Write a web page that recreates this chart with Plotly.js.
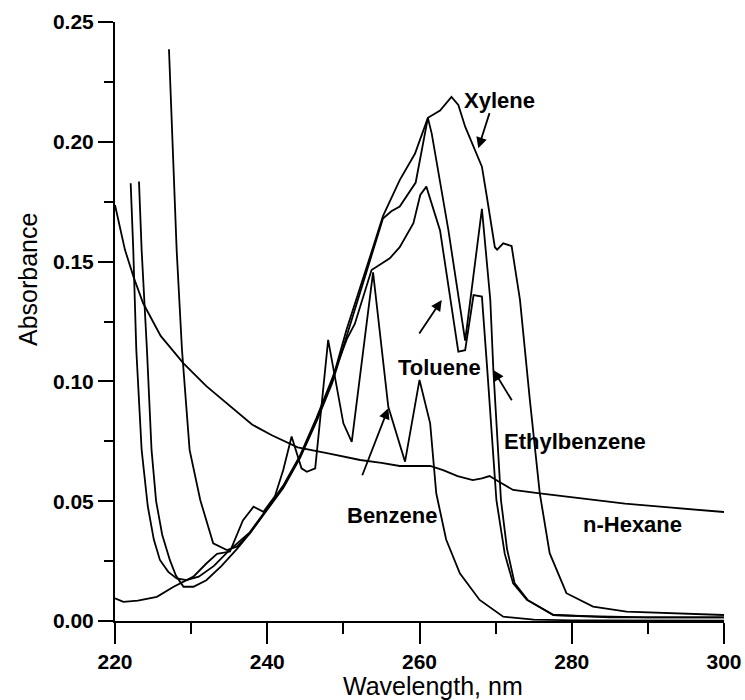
<!DOCTYPE html>
<html>
<head>
<meta charset="utf-8">
<script src="https://cdn.plot.ly/plotly-3.0.1.min.js"></script>
<style>html,body{margin:0;padding:0;background:#fff;}</style>
</head>
<body>
<div id="chart" style="width:745px;height:700px;"></div>
<script>
// n-Hexane
const hexX = [220, 221.3, 222.5, 223.7, 226, 229, 232, 235.5, 238, 240.6, 244, 248, 252.2, 255, 257.4, 261.4, 263.1, 265, 267, 268.2, 269.2, 270.5, 272.3, 275.8, 279, 282.8, 287, 291.6, 296, 300];
const hexY = [0.1736, 0.155, 0.143, 0.1326, 0.119, 0.1075, 0.098, 0.0885, 0.082, 0.0775, 0.0725, 0.070, 0.0672, 0.066, 0.0647, 0.0647, 0.063, 0.0605, 0.0588, 0.0595, 0.0605, 0.058, 0.0547, 0.0533, 0.052, 0.0505, 0.049, 0.0477, 0.0465, 0.0455];
// Benzene
const bzX = [220, 221.1, 223, 225.5, 227.7, 230.3, 232, 233.4, 235.1, 236.8, 238.2, 239.5, 241, 242.1, 243.2, 244.5, 245.2, 246.3, 248.0, 250.0, 251.1, 253.9, 255.9, 258.1, 260.0, 261.4, 262.2, 263.5, 265.3, 267.9, 271, 275, 280, 290, 300];
const bzY = [0.0095, 0.008, 0.0085, 0.0101, 0.0143, 0.0185, 0.024, 0.028, 0.029, 0.042, 0.0477, 0.0456, 0.052, 0.063, 0.077, 0.0637, 0.0623, 0.0637, 0.1173, 0.0825, 0.0748, 0.1455, 0.0894, 0.0665, 0.1006, 0.0825, 0.0533, 0.034, 0.0199, 0.0088, 0.0018, 0.0006, 0.0003, 0.0002, 0.0001];
// Toluene
const tolX = [222.06, 222.4, 222.8, 223.5, 224.3, 225.1, 225.9, 227, 228.1, 229.4, 231, 233, 235, 237.7, 239.9, 242.1, 244.3, 246.5, 248.5, 250.5, 251.5, 253.7, 256.1, 257.4, 259.2, 260.1, 260.9, 262.7, 265.1, 266.0, 267.1, 268.2, 268.9, 270.1, 271.2, 272.3, 274.1, 277.6, 282, 290, 300];
const tolY = [0.1827, 0.155, 0.113, 0.0714, 0.048, 0.034, 0.0255, 0.0205, 0.0178, 0.0171, 0.0185, 0.023, 0.0295, 0.037, 0.0465, 0.0565, 0.069, 0.085, 0.101, 0.118, 0.124, 0.1465, 0.1514, 0.156, 0.166, 0.1778, 0.1813, 0.163, 0.1124, 0.113, 0.136, 0.1354, 0.105, 0.0505, 0.028, 0.0157, 0.0088, 0.0025, 0.002, 0.0015, 0.0015];
// Ethylbenzene
const ebX = [223.15, 223.5, 224.2, 224.8, 225.4, 226.2, 227.2, 228, 229.0, 230.3, 232, 234, 236, 237.7, 239.9, 242.1, 244.3, 246.5, 248.5, 250.7, 253.5, 255.2, 256.3, 257.4, 259.5, 261.1, 261.6, 263.8, 266.0, 268.2, 269.3, 269.7, 270.7, 271.5, 272.5, 274.2, 277.6, 285, 300];
const ebY = [0.1834, 0.1548, 0.113, 0.0714, 0.05, 0.036, 0.0255, 0.019, 0.0143, 0.0143, 0.017, 0.023, 0.030, 0.0365, 0.046, 0.0555, 0.068, 0.0835, 0.099, 0.1215, 0.150, 0.168, 0.171, 0.173, 0.183, 0.21, 0.2035, 0.163, 0.117, 0.172, 0.134, 0.105, 0.0505, 0.03, 0.0157, 0.0088, 0.0025, 0.0015, 0.0015];
// Xylene
const xyX = [227.09, 228.1, 228.8, 229.8, 231.2, 232.9, 234.7, 236.0, 237.7, 239.9, 242.1, 244.3, 246.5, 248.5, 250.4, 253.5, 255.2, 257.4, 259.4, 261.1, 262.7, 264.2, 265.1, 266.0, 267.2, 268.2, 268.8, 269.9, 270.2, 271.0, 272.1, 272.6, 273.2, 274.5, 275.8, 277.1, 279.3, 282.8, 287.2, 300];
const xyY = [0.2386, 0.1548, 0.1131, 0.0714, 0.0505, 0.0324, 0.0296, 0.031, 0.0366, 0.0463, 0.0560, 0.0686, 0.084, 0.100, 0.1215, 0.152, 0.169, 0.184, 0.195, 0.21, 0.213, 0.2187, 0.2154, 0.2063, 0.197, 0.1896, 0.178, 0.156, 0.155, 0.1576, 0.1565, 0.146, 0.134, 0.0922, 0.0533, 0.0283, 0.0116, 0.006, 0.0039, 0.0025];

const xTicks = [220, 240, 260, 280, 300];
const yTicks = [0.00, 0.05, 0.10, 0.15, 0.20, 0.25];

const series = [
  {name: 'n-Hexane', x: hexX, y: hexY},
  {name: 'Benzene', x: bzX, y: bzY},
  {name: 'Toluene', x: tolX, y: tolY},
  {name: 'Ethylbenzene', x: ebX, y: ebY},
  {name: 'Xylene', x: xyX, y: xyY}
];

const traces = series.map(s => ({
  type: 'scatter', mode: 'lines', name: s.name, x: s.x, y: s.y,
  line: {color: '#000', width: 1.8}, hoverinfo: 'skip'
}));

const FONT = '"Liberation Sans", Arial, Helvetica, sans-serif';
const lbl = (text, x, y) => ({text, x, y, xref: 'x', yref: 'y', showarrow: false,
  font: {family: FONT, size: 22, color: '#000', weight: 'bold'}, xanchor: 'center', yanchor: 'middle'});
const arr = (x, y, ax, ay) => ({text: '', x, y, ax, ay, xref: 'x', yref: 'y', axref: 'x', ayref: 'y',
  showarrow: true, arrowhead: 2, arrowsize: 1.2, arrowwidth: 1.8, arrowcolor: '#000'});

const layout = {
  width: 745, height: 700,
  margin: {l: 115, r: 21, t: 22, b: 79},
  paper_bgcolor: '#fff', plot_bgcolor: '#fff',
  showlegend: false,
  font: {family: FONT, color: '#000'},
  xaxis: {
    range: [220, 300], tickmode: 'array', tickvals: xTicks, ticktext: xTicks.map(String),
    ticks: 'outside', ticklen: 21, tickwidth: 2, tickcolor: '#000',
    minor: {tickmode: 'linear', tick0: 230, dtick: 20, ticks: 'outside', ticklen: 11, tickwidth: 2, tickcolor: '#000', showgrid: false},
    showline: true, linewidth: 2, linecolor: '#000', showgrid: false, zeroline: false,
    tickfont: {family: FONT, size: 21, color: '#000', weight: 'bold'}
  },
  yaxis: {
    range: [0, 0.25], tickmode: 'array', tickvals: yTicks, ticktext: yTicks.map(v => v.toFixed(2)),
    ticks: 'outside', ticklen: 15, tickwidth: 2, tickcolor: '#000',
    minor: {tickmode: 'linear', tick0: 0.025, dtick: 0.05, ticks: 'outside', ticklen: 9, tickwidth: 2, tickcolor: '#000', showgrid: false},
    showline: true, linewidth: 2, linecolor: '#000', showgrid: false, zeroline: false,
    tickfont: {family: FONT, size: 21, color: '#000', weight: 'bold'}
  },
  annotations: [
    {text: 'Wavelength, nm', xref: 'paper', yref: 'paper', x: (433 - 115) / 609, y: (621 - 686) / 599,
      xanchor: 'center', yanchor: 'middle', showarrow: false, font: {family: FONT, size: 25, color: '#000'}},
    {text: 'Absorbance', xref: 'paper', yref: 'paper', x: (28 - 115) / 609, y: (621 - 280) / 599, textangle: -90,
      xanchor: 'center', yanchor: 'middle', showarrow: false, font: {family: FONT, size: 25, color: '#000'}},
    lbl('Xylene', 270.57, 0.2174),
    arr(267.72, 0.1973, 269.26, 0.2126),
    lbl('Toluene', 262.69, 0.1056),
    arr(262.92, 0.134, 259.84, 0.1194),
    lbl('Ethylbenzene', 280.43, 0.0748),
    arr(269.69, 0.1048, 272.24, 0.0915),
    lbl('Benzene', 256.39, 0.0442),
    arr(255.9, 0.0888, 252.41, 0.0602),
    lbl('n-Hexane', 287.98, 0.0401)
  ]
};

Plotly.newPlot('chart', traces, layout, {staticPlot: true, displayModeBar: false});
</script>
</body>
</html>
